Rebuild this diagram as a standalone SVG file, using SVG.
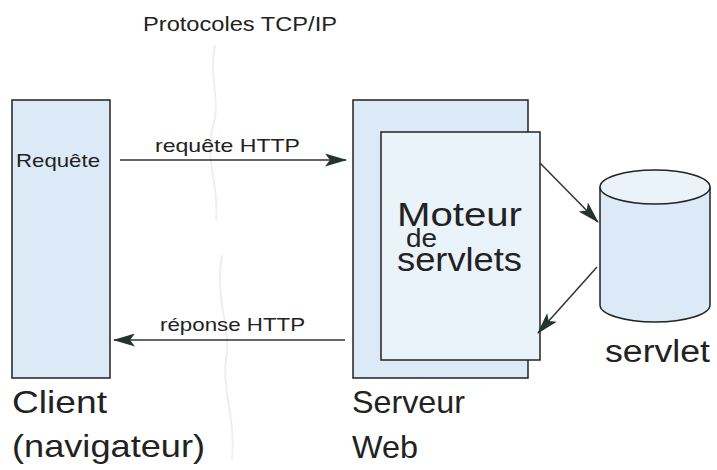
<svg xmlns="http://www.w3.org/2000/svg" width="717" height="470" viewBox="0 0 717 470">
<defs>
<style>
.box{stroke:#222;stroke-width:1.5}
.t{font-family:"Liberation Sans",Arial,sans-serif;fill:#222}
.c{stroke:#333;stroke-width:1.5;fill:none}
</style>
<marker id="ahb" markerWidth="22" markerHeight="13" refX="21" refY="6.5" orient="auto" markerUnits="userSpaceOnUse" viewBox="0 0 22 13">
<path d="M0,0 L22,6.5 L0,13 L5,6.5 Z" fill="#23342c"/>
</marker>
</defs>
<rect width="717" height="470" fill="#fff"/>
<path d="M215,45 C208,80 222,100 212,130 C205,160 220,190 216,220 M222,255 C214,300 232,330 226,360 C222,390 236,420 232,460" fill="none" stroke="#eceff3" stroke-width="2"/>
<text class="t" x="143" y="31" font-size="20" textLength="194" lengthAdjust="spacingAndGlyphs">Protocoles TCP/IP</text>
<g id="client">
<rect class="box" x="12" y="100" width="98" height="278" fill="#dce9f6"/>
<text class="t" x="16" y="167" font-size="19" textLength="84" lengthAdjust="spacingAndGlyphs">Requête</text>
<text class="t" x="12" y="413" font-size="32" textLength="95" lengthAdjust="spacingAndGlyphs">Client</text>
<text class="t" x="12" y="457" font-size="32" textLength="193" lengthAdjust="spacingAndGlyphs">(navigateur)</text>
</g>
<g id="serveur">
<rect class="box" x="353" y="100" width="175" height="278" fill="#dce9f6"/>
<text class="t" x="352" y="413" font-size="32" textLength="113" lengthAdjust="spacingAndGlyphs">Serveur</text>
<text class="t" x="352" y="458" font-size="32" textLength="66" lengthAdjust="spacingAndGlyphs">Web</text>
</g>
<g id="moteur">
<rect class="box" x="381" y="132" width="159" height="228" fill="#eaf2fa"/>
<text class="t" x="397" y="226" font-size="34" textLength="125" lengthAdjust="spacingAndGlyphs">Moteur</text>
<text class="t" x="406" y="247" font-size="26" textLength="31" lengthAdjust="spacingAndGlyphs">de</text>
<text class="t" x="397" y="271" font-size="34" textLength="125" lengthAdjust="spacingAndGlyphs">servlets</text>
</g>
<g id="servlet">
<path d="M600,187 L600,305 A55,17 0 0 0 710,305 L710,187" fill="#dce9f6" stroke="#222" stroke-width="1.5"/>
<ellipse cx="655" cy="187" rx="55" ry="17" fill="#eaf2fa" stroke="#222" stroke-width="1.5"/>
<text class="t" x="605" y="362" font-size="31" textLength="105" lengthAdjust="spacingAndGlyphs">servlet</text>
</g>
<g id="connectors">
<line class="c" x1="120" y1="160" x2="346" y2="160" marker-end="url(#ahb)"/>
<text class="t" x="155" y="152" font-size="19" textLength="145" lengthAdjust="spacingAndGlyphs">requête HTTP</text>
<line class="c" x1="345" y1="340" x2="114" y2="340" marker-end="url(#ahb)"/>
<text class="t" x="160" y="331" font-size="19" textLength="145" lengthAdjust="spacingAndGlyphs">réponse HTTP</text>
<line class="c" x1="540" y1="163" x2="598" y2="222" marker-end="url(#ahb)"/>
<line class="c" x1="597" y1="267" x2="538" y2="333" marker-end="url(#ahb)"/>
</g>
</svg>
